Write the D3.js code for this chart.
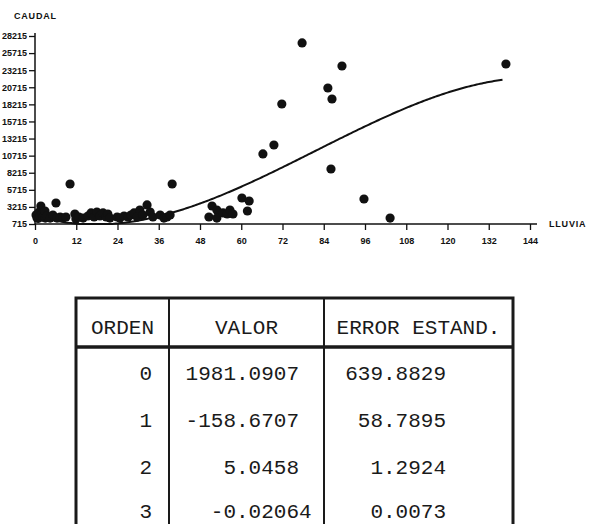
<!DOCTYPE html>
<html>
<head>
<meta charset="utf-8">
<script src="https://cdn.jsdelivr.net/npm/d3@7"></script>
<style>
  html, body { margin: 0; padding: 0; background: #fff; }
  svg { display: block; }
</style>
</head>
<body>
<svg id="chart" width="590" height="524"></svg>
<script>
// ---- Data ----
const lluvia = [0.3,0.6,1.0,1.2,1.5,1.7,2.0,2.3,2.9,3.0,3.5,4.4,5.2,6.1,6.4,7.3,8.1,9.0,10.2,11.6,11.9,12.8,14.0,15.4,16.3,17.2,18.0,18.9,19.8,20.7,21.2,21.8,23.9,24.7,25.9,27.1,27.9,28.8,29.7,30.5,31.4,32.6,33.5,34.3,36.4,37.5,38.4,39.3,39.9,50.6,51.5,52.9,52.9,54.7,55.9,56.7,57.6,60.2,62.3,61.8,66.3,69.5,71.8,77.7,85.2,86.4,89.3,86.1,95.7,103.3,137.0];
const caudal = [1600,1150,1100,2030,1450,2910,1750,1300,2180,1150,1450,1150,1590,3350,1150,1300,1150,1300,6130,1740,1010,1300,1150,1450,1890,1300,2030,1450,1890,1300,1740,1150,1300,1150,1450,1300,1590,1890,1300,2320,1590,3060,2030,1300,1590,1150,1300,1590,6130,1300,2910,2320,1150,1890,1740,2320,1740,4080,3640,2180,10520,11830,17830,26760,20170,18560,23390,8320,3930,1150,23680];

const xTicks = [0,12,24,36,48,60,72,84,96,108,120,132,144];
const yTicks = [715,3215,5715,8215,10715,13215,15715,18215,20715,23215,25715,28215];

const coefOrden = ["0","1","2","3"];
const coefValor = ["1981.0907","-158.6707","5.0458","-0.02064"];
const coefError = ["639.8829","58.7895","1.2924","0.0073"];
const tableHeaders = ["ORDEN","VALOR","ERROR ESTAND."];

const xLabel = "LLUVIA";
const yLabel = "CAUDAL";

// ---- Chart ----
const svg = d3.select("#chart");
const ink = "#111";

const x = d3.scaleLinear().domain([0,144]).range([35,530]);
const y = d3.scaleLinear().domain([715,28215]).range([224,36]);

const tickFont = "bold 9px 'Liberation Sans', Arial, sans-serif";

// y axis
const yAxis = svg.append("g").attr("transform", `translate(${x(0)},0)`)
  .call(d3.axisLeft(y).tickValues(yTicks).tickSize(6).tickSizeOuter(0).tickPadding(2).tickFormat(d => String(d)));
yAxis.select(".domain").remove();
yAxis.selectAll("line").attr("stroke", ink).attr("stroke-width", 1.3);
yAxis.selectAll("text").style("font", tickFont).attr("fill", ink);
svg.append("line").attr("x1", x(0)).attr("x2", x(0)).attr("y1", y(715)).attr("y2", y(28215) - 3)
  .attr("stroke", ink).attr("stroke-width", 1.5);

// x axis
const xAxis = svg.append("g").attr("transform", `translate(0,${y(715)})`)
  .call(d3.axisBottom(x).tickValues(xTicks).tickSize(6).tickSizeOuter(0).tickPadding(8).tickFormat(d => String(d)));
xAxis.select(".domain").remove();
xAxis.selectAll("line").attr("stroke", ink).attr("stroke-width", 1.3);
xAxis.selectAll("text").style("font", tickFont).attr("fill", ink);
svg.append("line").attr("x1", x(0)).attr("x2", x(144) + 7).attr("y1", y(715)).attr("y2", y(715))
  .attr("stroke", ink).attr("stroke-width", 1.5);

// axis titles
svg.append("text").attr("x", 14).attr("y", 19).text(yLabel)
  .style("font", "bold 9px 'Liberation Sans', Arial, sans-serif").style("letter-spacing", "0.8px").attr("fill", ink);
svg.append("text").attr("x", 549).attr("y", y(715) + 3).text(xLabel)
  .style("font", "bold 9px 'Liberation Sans', Arial, sans-serif").style("letter-spacing", "0.8px").attr("fill", ink);

// fitted polynomial curve
const coef = coefValor.map(Number);
const poly = v => coef[0] + coef[1]*v + coef[2]*v*v + coef[3]*v*v*v;
const curveX = d3.range(0, 136.05, 0.5);
svg.append("path")
  .datum(curveX)
  .attr("fill", "none").attr("stroke", ink).attr("stroke-width", 2)
  .attr("d", d3.line().x(d => x(d)).y(d => y(Math.max(715, poly(d)))));

// points
svg.append("g").selectAll("circle")
  .data(lluvia.map((v, i) => [v, caudal[i]]))
  .join("circle")
  .attr("cx", d => x(d[0])).attr("cy", d => y(d[1]) - 3)
  .attr("r", 4.6).attr("fill", ink);

// ---- Table ----
const tX = [76, 169, 324, 513];
const tTop = 298, tHead = 347;
const rowY = [373, 420, 467, 511];
const tableFont = "21px 'Liberation Mono', 'DejaVu Sans Mono', monospace";
const tInk = "#1a1a1a";

const tg = svg.append("g");
tg.append("rect").attr("x", tX[0]).attr("y", tTop).attr("width", tX[3] - tX[0]).attr("height", 260)
  .attr("fill", "none").attr("stroke", tInk).attr("stroke-width", 3);
tg.append("line").attr("x1", tX[0]).attr("x2", tX[3]).attr("y1", tHead).attr("y2", tHead)
  .attr("stroke", tInk).attr("stroke-width", 3.5);
[tX[1], tX[2]].forEach(cx => tg.append("line").attr("x1", cx).attr("x2", cx).attr("y1", tTop).attr("y2", 530)
  .attr("stroke", tInk).attr("stroke-width", 2));

tableHeaders.forEach((h, i) => {
  tg.append("text").attr("x", (tX[i] + tX[i+1]) / 2).attr("y", 327).attr("dy", "0.35em")
    .attr("text-anchor", "middle").style("font", tableFont).attr("fill", tInk).text(h);
});

const probe = tg.append("text").style("font", tableFont).text("0000000000");
const cw = probe.node().getComputedTextLength() / 10;
probe.remove();

function decimalText(str, decX, yy) {
  const idx = str.indexOf(".");
  tg.append("text").attr("x", decX - idx * cw).attr("y", yy).attr("dy", "0.35em")
    .style("font", tableFont).attr("fill", tInk).text(str);
}

coefOrden.forEach((o, i) => {
  tg.append("text").attr("x", 152).attr("y", rowY[i]).attr("dy", "0.35em")
    .attr("text-anchor", "end").style("font", tableFont).attr("fill", tInk).text(o);
  decimalText(coefValor[i], 236, rowY[i]);
  decimalText(coefError[i], 383, rowY[i]);
});
</script>
</body>
</html>
